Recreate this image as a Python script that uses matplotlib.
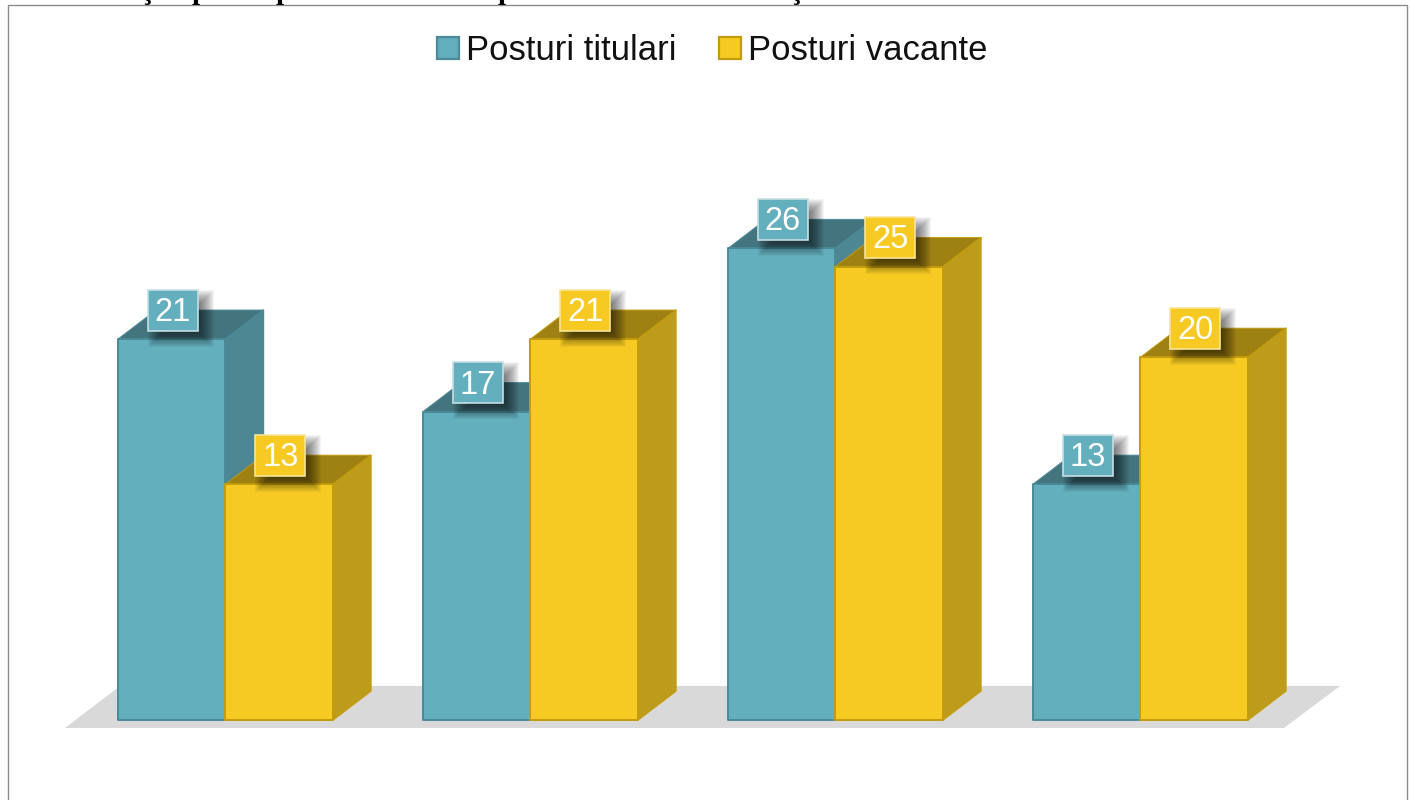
import matplotlib
matplotlib.use('Agg')
import matplotlib.pyplot as plt
from matplotlib.patches import Polygon, Rectangle, Patch

W = 1410
H = 800

series_names = ['Posturi titulari', 'Posturi vacante']
titulari = [21, 17, 26, 13]
vacante = [13, 21, 25, 20]

# front, side, top, edge, label border
teal = ['#64AFBD', '#4E8794', '#44757F', '#4A8A98', '#C5DEE3']
yellow = ['#F6CA23', '#BD9C1B', '#9E8113', '#C49B0C', '#F8E595']

# what is left of the cut off heading above the chart
heading_bits = ['ţ', 'p', 'p', 'p', 'ţ']
heading_px = [141, 192, 276, 498, 791]

plt.rcParams['font.family'] = ['Liberation Sans', 'DejaVu Sans']

# one group = 305 px, one unit of value = 18.14 px, first group centre at x=225.5, zero at y=720
PX = 1 / 305
PY = 1 / 18.14
BAR = 107.5 * PX
DX = 38 * PX
DY = 29 * PY

fig = plt.figure(figsize=(W / 100, H / 100), dpi=100)
ax = fig.add_axes([0, 0, 1, 1])
ax.set_xlim(-225.5 * PX, (W - 225.5) * PX)
ax.set_ylim(-(H - 720) * PY, 720 * PY)
ax.axis('off')


def bar3d(x, v, c):
    x2 = x + BAR
    ax.add_patch(Polygon([[x, v], [x + DX, v + DY], [x2 + DX, v + DY], [x2, v]],
                         fc=c[2], ec=c[3], lw=0.7, joinstyle='round', zorder=3))
    ax.add_patch(Polygon([[x2, 0], [x2 + DX, DY], [x2 + DX, v + DY], [x2, v]],
                         fc=c[1], ec=c[3], lw=1.0, joinstyle='round', zorder=3))
    ax.add_patch(Rectangle((x, 0), BAR, v, fc=c[0], ec=c[3], lw=1.4,
                           joinstyle='round', zorder=3))


def value_box(x, v, c):
    cx = x + BAR / 2 + 1 * PX
    cy = v + 29 * PY
    bw = 50 * PX
    bh = 41 * PY
    # soft shadow, stacked rectangles
    for k in range(18):
        grow = 8 - k
        ax.add_patch(Rectangle((cx - bw / 2 + (8 - grow) * PX, cy - bh / 2 - (8 + grow) * PY),
                               bw + 2 * grow * PX, bh + 2 * grow * PY,
                               fc='black', ec='none', alpha=0.042, zorder=5))
    ax.add_patch(Rectangle((cx - bw / 2, cy - bh / 2), bw, bh, fc=c[0], ec=c[4],
                           lw=1.2, zorder=6))
    ax.text(cx, cy - 2.5 * PY, str(v), color='white', fontsize=23.5, ha='center',
            va='center', zorder=7)


# floor
ax.add_patch(Polygon([[(65 - 225.5) * PX, -8 * PY], [(1284 - 225.5) * PX, -8 * PY],
                      [(1340 - 225.5) * PX, 34 * PY], [(120 - 225.5) * PX, 34 * PY]],
                     fc='#D9D9D9', ec='none', zorder=1))

# chart frame
ax.add_patch(Rectangle((-217.5 * PX, -90 * PY), 1399 * PX, 805 * PY, fc='none',
                       ec='#8C8C8C', lw=1, zorder=2))

for s, px in zip(heading_bits, heading_px):
    ax.text((px - 225.5) * PX, 721 * PY, s, family='Liberation Serif', fontweight='bold',
            fontsize=21, color='black', ha='left', va='baseline', clip_on=False)

for i in range(len(titulari)):
    bar3d(i - BAR, titulari[i], teal)
    bar3d(i, vacante[i], yellow)

for i in range(len(titulari)):
    value_box(i - BAR, titulari[i], teal)
    value_box(i, vacante[i], yellow)

handles = [Patch(fc=teal[0], ec=teal[3], lw=1.6), Patch(fc=yellow[0], ec=yellow[3], lw=1.6)]
ax.legend(handles, series_names, ncol=2, frameon=False, fontsize=24.9,
          loc='center', bbox_to_anchor=(712 / W, 1 - 51 / H), bbox_transform=ax.transAxes,
          handlelength=0.635, handleheight=0.6, handletextpad=0.2, columnspacing=1.24,
          labelcolor='#111111')

fig.savefig('out.png', dpi=100)
